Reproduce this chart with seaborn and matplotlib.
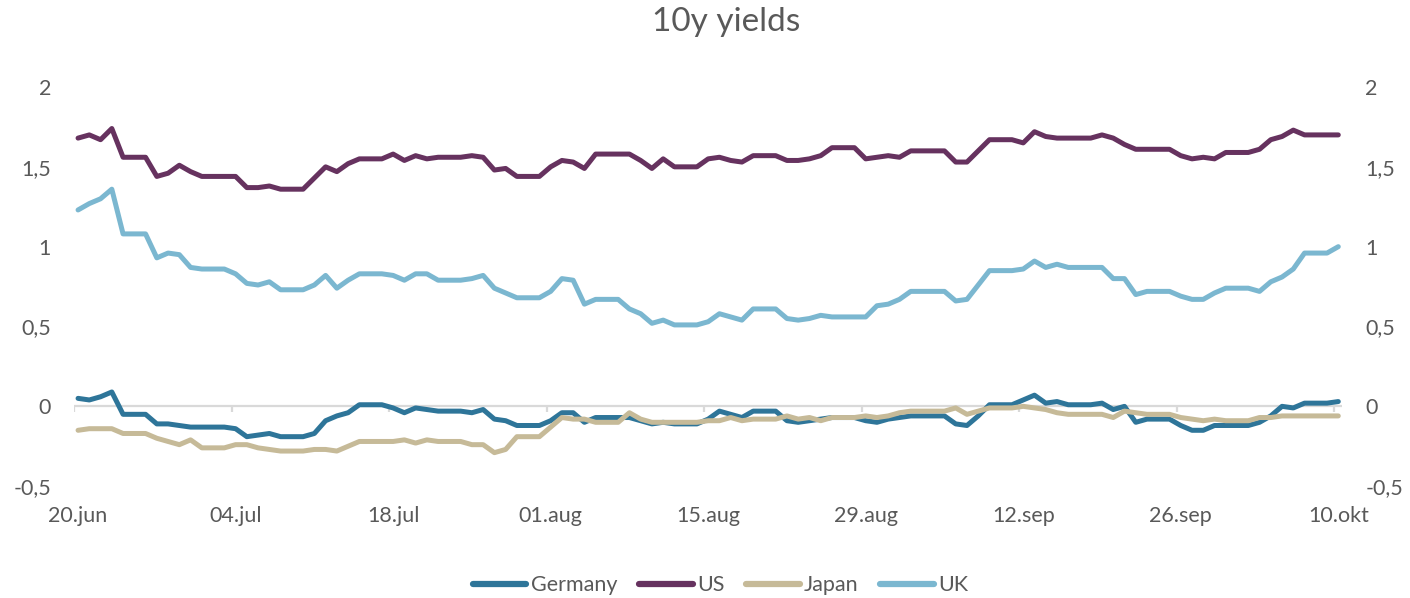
import matplotlib
matplotlib.use("Agg")
import matplotlib.pyplot as plt
import matplotlib.ticker as mticker
import numpy as np
import pandas as pd
import seaborn as sns

# Daily 10-year government bond yields, 20 Jun - 10 Oct (weekends carry Friday's level)
start_date = "2016-06-20"
end_date = "2016-10-10"

germany = [
    0.05, 0.04, 0.06, 0.09, -0.05, -0.05, -0.05,
    -0.11, -0.11, -0.12, -0.13, -0.13, -0.13, -0.13,
    -0.14, -0.19, -0.18, -0.17, -0.19, -0.19, -0.19,
    -0.17, -0.09, -0.06, -0.04, 0.01, 0.01, 0.01,
    -0.01, -0.04, -0.01, -0.02, -0.03, -0.03, -0.03,
    -0.04, -0.02, -0.08, -0.09, -0.12, -0.12, -0.12,
    -0.09, -0.04, -0.04, -0.10, -0.07, -0.07, -0.07,
    -0.07, -0.09, -0.11, -0.10, -0.11, -0.11, -0.11,
    -0.08, -0.03, -0.05, -0.07, -0.03, -0.03, -0.03,
    -0.09, -0.10, -0.09, -0.08, -0.07, -0.07, -0.07,
    -0.09, -0.10, -0.08, -0.07, -0.06, -0.06, -0.06,
    -0.06, -0.11, -0.12, -0.06, 0.01, 0.01, 0.01,
    0.04, 0.07, 0.02, 0.03, 0.01, 0.01, 0.01,
    0.02, -0.02, 0.00, -0.10, -0.08, -0.08, -0.08,
    -0.12, -0.15, -0.15, -0.12, -0.12, -0.12, -0.12,
    -0.10, -0.06, 0.00, -0.01, 0.02, 0.02, 0.02,
    0.03,
]

us = [
    1.68, 1.70, 1.67, 1.74, 1.56, 1.56, 1.56,
    1.44, 1.46, 1.51, 1.47, 1.44, 1.44, 1.44,
    1.44, 1.37, 1.37, 1.38, 1.36, 1.36, 1.36,
    1.43, 1.50, 1.47, 1.52, 1.55, 1.55, 1.55,
    1.58, 1.54, 1.57, 1.55, 1.56, 1.56, 1.56,
    1.57, 1.56, 1.48, 1.49, 1.44, 1.44, 1.44,
    1.50, 1.54, 1.53, 1.49, 1.58, 1.58, 1.58,
    1.58, 1.54, 1.49, 1.55, 1.50, 1.50, 1.50,
    1.55, 1.56, 1.54, 1.53, 1.57, 1.57, 1.57,
    1.54, 1.54, 1.55, 1.57, 1.62, 1.62, 1.62,
    1.55, 1.56, 1.57, 1.56, 1.60, 1.60, 1.60,
    1.60, 1.53, 1.53, 1.60, 1.67, 1.67, 1.67,
    1.65, 1.72, 1.69, 1.68, 1.68, 1.68, 1.68,
    1.70, 1.68, 1.64, 1.61, 1.61, 1.61, 1.61,
    1.57, 1.55, 1.56, 1.55, 1.59, 1.59, 1.59,
    1.61, 1.67, 1.69, 1.73, 1.70, 1.70, 1.70,
    1.70,
]

japan = [
    -0.15, -0.14, -0.14, -0.14, -0.17, -0.17, -0.17,
    -0.20, -0.22, -0.24, -0.21, -0.26, -0.26, -0.26,
    -0.24, -0.24, -0.26, -0.27, -0.28, -0.28, -0.28,
    -0.27, -0.27, -0.28, -0.25, -0.22, -0.22, -0.22,
    -0.22, -0.21, -0.23, -0.21, -0.22, -0.22, -0.22,
    -0.24, -0.24, -0.29, -0.27, -0.19, -0.19, -0.19,
    -0.13, -0.07, -0.08, -0.08, -0.10, -0.10, -0.10,
    -0.04, -0.08, -0.10, -0.10, -0.10, -0.10, -0.10,
    -0.09, -0.09, -0.07, -0.09, -0.08, -0.08, -0.08,
    -0.06, -0.08, -0.07, -0.09, -0.07, -0.07, -0.07,
    -0.06, -0.07, -0.06, -0.04, -0.03, -0.03, -0.03,
    -0.03, -0.01, -0.05, -0.03, -0.01, -0.01, -0.01,
    0.00, -0.01, -0.02, -0.04, -0.05, -0.05, -0.05,
    -0.05, -0.07, -0.03, -0.04, -0.05, -0.05, -0.05,
    -0.07, -0.08, -0.09, -0.08, -0.09, -0.09, -0.09,
    -0.07, -0.07, -0.06, -0.06, -0.06, -0.06, -0.06,
    -0.06,
]

uk = [
    1.23, 1.27, 1.30, 1.36, 1.08, 1.08, 1.08,
    0.93, 0.96, 0.95, 0.87, 0.86, 0.86, 0.86,
    0.83, 0.77, 0.76, 0.78, 0.73, 0.73, 0.73,
    0.76, 0.82, 0.74, 0.79, 0.83, 0.83, 0.83,
    0.82, 0.79, 0.83, 0.83, 0.79, 0.79, 0.79,
    0.80, 0.82, 0.74, 0.71, 0.68, 0.68, 0.68,
    0.72, 0.80, 0.79, 0.64, 0.67, 0.67, 0.67,
    0.61, 0.58, 0.52, 0.54, 0.51, 0.51, 0.51,
    0.53, 0.58, 0.56, 0.54, 0.61, 0.61, 0.61,
    0.55, 0.54, 0.55, 0.57, 0.56, 0.56, 0.56,
    0.56, 0.63, 0.64, 0.67, 0.72, 0.72, 0.72,
    0.72, 0.66, 0.67, 0.76, 0.85, 0.85, 0.85,
    0.86, 0.91, 0.87, 0.89, 0.87, 0.87, 0.87,
    0.87, 0.80, 0.80, 0.70, 0.72, 0.72, 0.72,
    0.69, 0.67, 0.67, 0.71, 0.74, 0.74, 0.74,
    0.72, 0.78, 0.81, 0.86, 0.96, 0.96, 0.96,
    1.00,
]

series_names = ["Germany", "US", "Japan", "UK"]
series_colors = ["#2E7599", "#66325F", "#C6BA98", "#7BB7D0"]
x_tick_labels = ["20.jun", "04.jul", "18.jul", "01.aug", "15.aug",
                 "29.aug", "12.sep", "26.sep", "10.okt"]
y_ticks = [-0.5, 0, 0.5, 1, 1.5, 2]
title_text = "10y yields"

dates = pd.date_range(start_date, end_date, freq="D")
wide = pd.DataFrame({"Germany": germany, "US": us, "Japan": japan, "UK": uk}, index=dates)
long = wide.reset_index(names="date").melt(id_vars="date", var_name="country", value_name="yield")

sns.set_theme(style="white")
plt.rcParams["font.family"] = ["Lato", "DejaVu Sans"]
text_grey = "#595959"
axis_grey = "#D9D9D9"
small_font = 15.5

fig = plt.figure(figsize=(14.10, 5.98), dpi=100)
ax = fig.add_axes([0.0525, 0.187, 0.8995, 0.6675])

sns.lineplot(data=long, x="date", y="yield", hue="country", hue_order=series_names,
             palette=series_colors, linewidth=3.6, ax=ax, legend=True,
             solid_capstyle="round", solid_joinstyle="round")

# date axis: 14-day spacing between labels, a little room either side of the first/last day
ax.set_xlim(dates[0] - pd.Timedelta(hours=8.6), dates[-1] + pd.Timedelta(hours=8.6))
tick_dates = pd.date_range(start_date, end_date, freq="14D")
ax.set_xticks(tick_dates)
ax.set_xticklabels(x_tick_labels)
ax.tick_params(axis="x", length=0, pad=14.5, labelsize=small_font, labelcolor=text_grey)

# value axis labelled on both sides, decimal comma
ax.set_ylim(y_ticks[0], y_ticks[-1])
ax.set_yticks(y_ticks)
ax.yaxis.set_major_formatter(mticker.FuncFormatter(lambda v, _: f"{v:g}".replace(".", ",")))
ax.tick_params(axis="y", which="major", length=0, pad=16.5, labelsize=small_font,
               labelcolor=text_grey, labelleft=True, labelright=True)

for side in ["top", "bottom", "left", "right"]:
    ax.spines[side].set_visible(False)
ax.grid(False)

# zero line with small category tick marks hanging below it
ax.axhline(0, color=axis_grey, linewidth=1.6, zorder=1)
mark_dates = tick_dates - pd.Timedelta(hours=8.6)
ax.vlines(mark_dates, -0.035, 0, color=axis_grey, linewidth=1.6, zorder=1)

ax.set_xlabel("")
ax.set_ylabel("")
fig.text(0.515, 0.963, title_text, fontsize=24, color=text_grey, ha="center", va="center")

handles, labels = ax.get_legend_handles_labels()
ax.get_legend().remove()
for h in handles:
    h.set_linewidth(4.5)
    h.set_solid_capstyle("round")
fig.legend(handles, labels, loc="center", bbox_to_anchor=(0.511, 0.021), ncol=4,
           frameon=False, fontsize=small_font, labelcolor=text_grey, handlelength=2.5,
           handletextpad=0.2, columnspacing=1.0)

fig.savefig("out.png", dpi=100, facecolor="white")
